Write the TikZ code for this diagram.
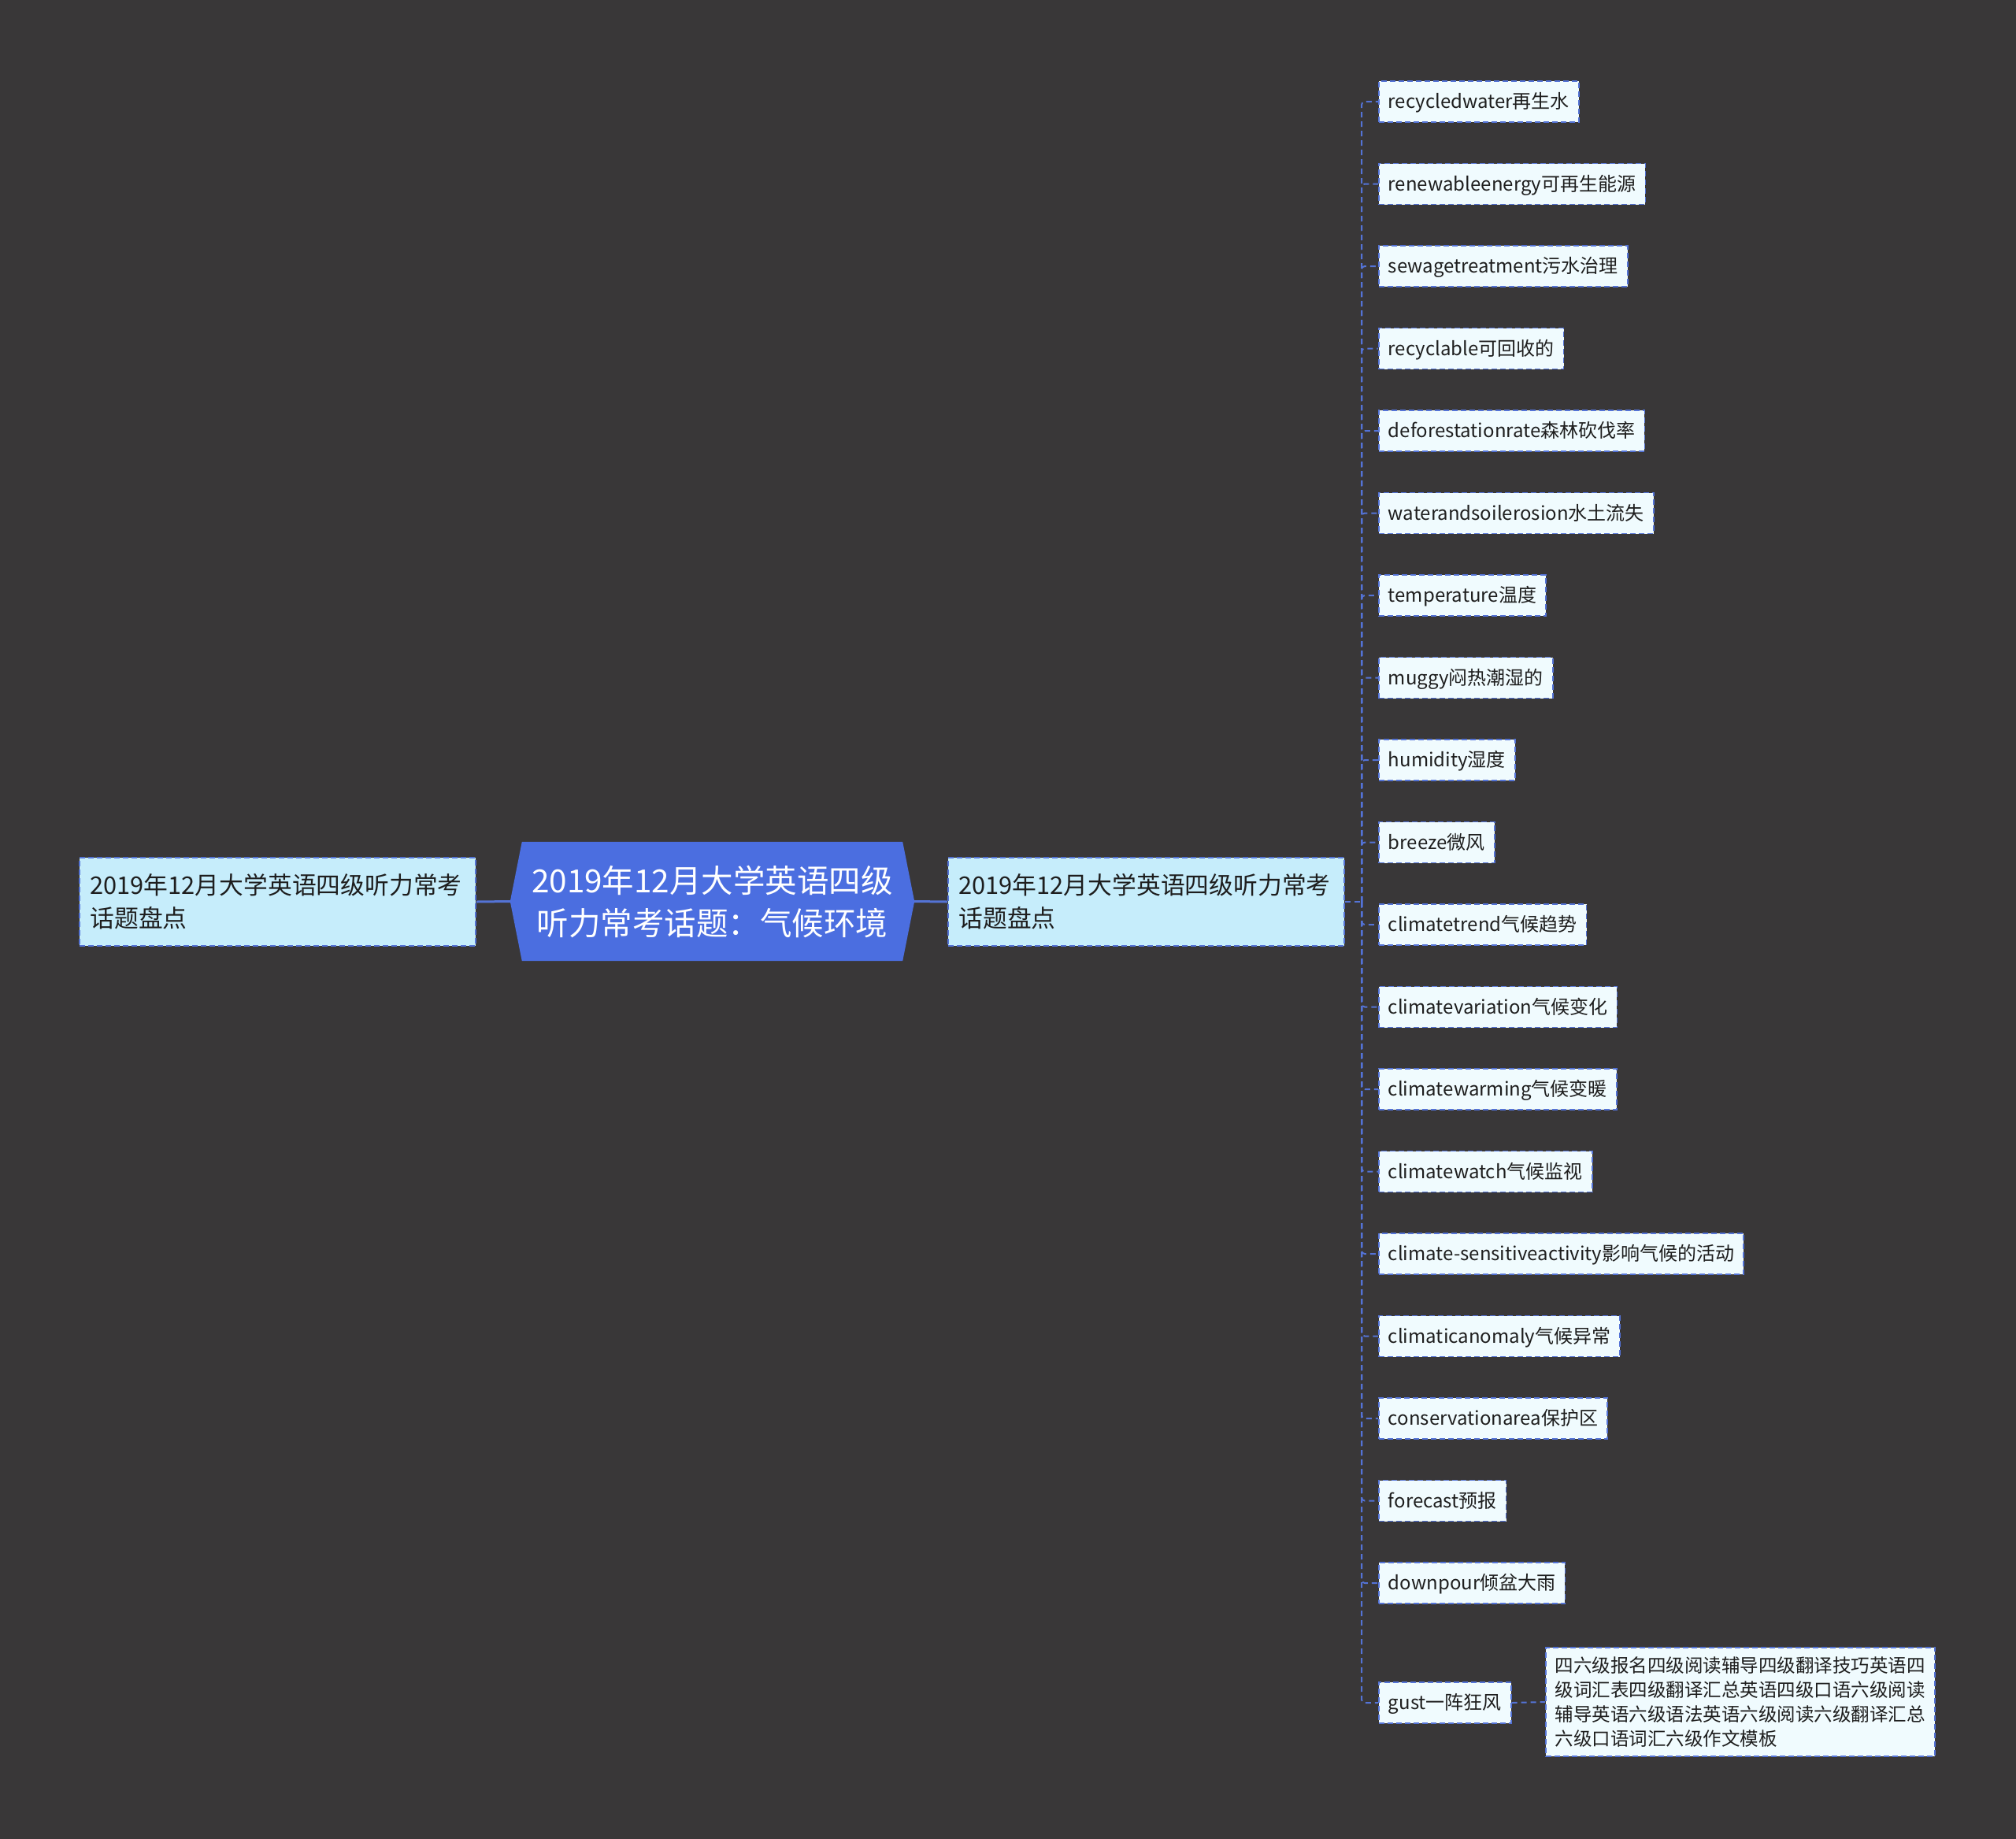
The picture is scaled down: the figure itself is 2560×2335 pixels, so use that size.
\documentclass[tikz,border=0pt]{standalone}
\usepackage{fontspec}
\setmainfont{Noto Sans CJK SC}
\usetikzlibrary{calc}
\definecolor{bgc}{HTML}{393738}
\definecolor{linec}{HTML}{5473D6}
\definecolor{centerfill}{HTML}{4B6EE0}
\definecolor{subfill}{HTML}{C6EDFB}
\definecolor{leaffill}{HTML}{F0FBFE}
\definecolor{textc}{HTML}{1E1E1E}
\tikzset{
  leaf/.style={draw=linec, line width=1.8pt, dash pattern=on 7pt off 4pt, fill=leaffill,
    text=textc, font=\fontsize{24}{30}\selectfont, inner xsep=12pt, inner ysep=0pt,
    minimum height=52pt, anchor=west, text height=21pt, text depth=4pt},
  subnode/.style={draw=linec, line width=1.8pt, dash pattern=on 7pt off 4pt, fill=subfill,
    text=textc, font=\fontsize{30.8}{42}\selectfont, text width=476pt, align=left,
    inner xsep=13.5pt, minimum height=112pt, minimum width=503pt},
  bignode/.style={draw=linec, line width=1.8pt, dash pattern=on 7pt off 4pt, fill=leaffill,
    text=textc, font=\fontsize{23.5}{31}\selectfont, align=left, anchor=west,
    inner xsep=12pt, inner ysep=12pt},
  conn/.style={draw=linec, line width=2pt, dash pattern=on 7pt off 5pt, rounded corners=4pt},
  mainconn/.style={draw=linec, line width=3pt}
}
\begin{document}
\begin{tikzpicture}[x=1pt,y=-1pt]
\path[fill=bgc] (0,0) rectangle (2560,2335);
\useasboundingbox (0,0) rectangle (2560,2335);
% central node
\node[minimum width=513pt, minimum height=151pt, inner sep=0pt] (C) at (904.5,1144.5) {};
\fill[centerfill] (C.west) -- ($(C.north west)+(15,0)$) -- ($(C.north east)+(-15,0)$) -- (C.east) -- ($(C.south east)+(-15,0)$) -- ($(C.south west)+(15,0)$) -- cycle;
\node[text=white, font=\fontsize{40.5}{54}\selectfont, align=center] at (C.center) {2019年12月大学英语四级\\听力常考话题：气候环境};
% side nodes
\node[subnode] (Lft) at (352.5,1145) {2019年12月大学英语四级听力常考\\话题盘点};
\node[subnode] (R) at (1455.5,1145) {2019年12月大学英语四级听力常考\\话题盘点};
\draw[mainconn] (Lft.east) -- (C.west);
\draw[mainconn] (C.east) -- (R.west);
\coordinate (J) at (1729,1145);
\draw[conn] (R.east) -- (J);
\foreach \t [count=\i from 0] in {recycledwater再生水, renewableenergy可再生能源, sewagetreatment污水治理, recyclable可回收的, deforestationrate森林砍伐率, waterandsoilerosion水土流失, temperature温度, muggy闷热潮湿的, humidity湿度, breeze微风, climatetrend气候趋势, climatevariation气候变化, climatewarming气候变暖, climatewatch气候监视, climate-sensitiveactivity影响气候的活动, climaticanomaly气候异常, conservationarea保护区, forecast预报, downpour倾盆大雨} {
  \node[leaf] (L\i) at (1750,{129+\i*104.5}) {\t};
  \draw[conn] (J) |- (L\i.west);
}
\node[leaf] (Lg) at (1750,2162) {gust一阵狂风};
\draw[conn] (J) |- (Lg.west);
\node[bignode] (B) at (1962,2161) {四六级报名四级阅读辅导四级翻译技巧英语四\\级词汇表四级翻译汇总英语四级口语六级阅读\\辅导英语六级语法英语六级阅读六级翻译汇总\\六级口语词汇六级作文模板};
\draw[conn] (Lg.east) -- (B.west);
\end{tikzpicture}
\end{document}
